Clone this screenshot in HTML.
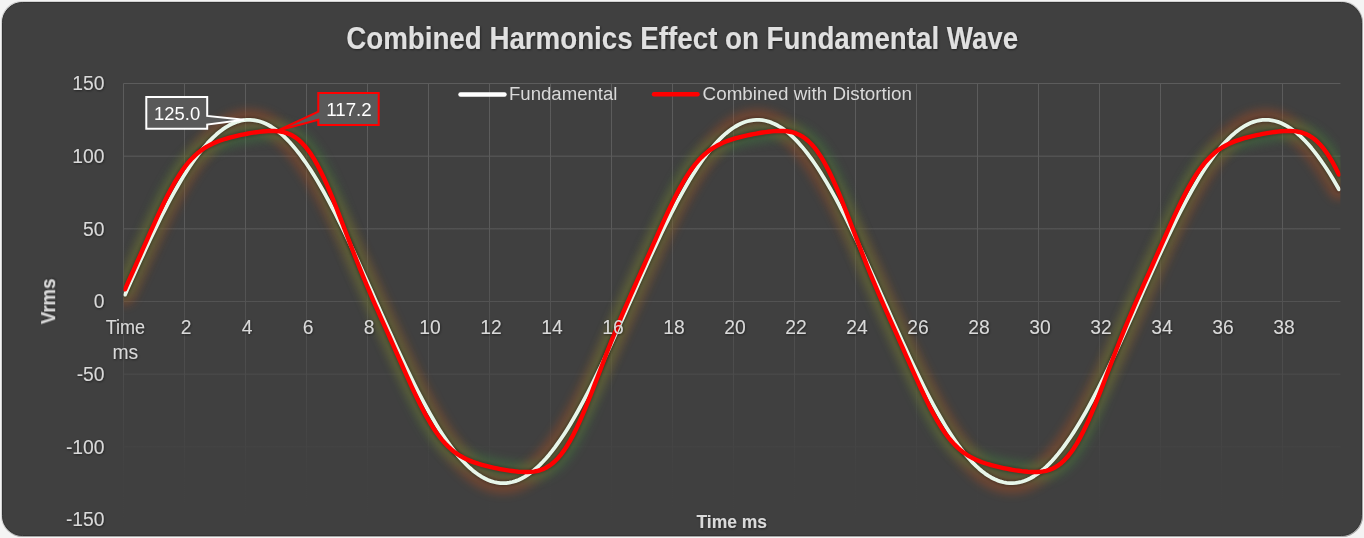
<!DOCTYPE html>
<html><head><meta charset="utf-8"><title>Combined Harmonics Effect on Fundamental Wave</title>
<style>
html,body{margin:0;padding:0;background:#f4f4f4;width:1364px;height:538px;overflow:hidden}
svg{display:block}
text{font-family:"Liberation Sans",Arial,sans-serif}
</style></head><body>
<svg width="1364" height="538" viewBox="0 0 1364 538">
<defs>
<filter id="sh" x="-5%" y="-5%" width="110%" height="110%"><feGaussianBlur stdDeviation="0.8"/></filter>
<filter id="ts" x="-10%" y="-20%" width="120%" height="150%"><feDropShadow dx="0.6" dy="0.8" stdDeviation="0.8" flood-color="#000" flood-opacity="0.55"/></filter>
<filter id="glowO" x="-10%" y="-30%" width="120%" height="160%"><feGaussianBlur stdDeviation="4.5"/></filter>
<filter id="glowG" x="-10%" y="-30%" width="120%" height="160%"><feGaussianBlur stdDeviation="4.5"/></filter>
<linearGradient id="gg" gradientUnits="userSpaceOnUse" x1="0" y1="83" x2="0" y2="520">
<stop offset="0" stop-color="#5c5c5c"/>
<stop offset="0.31" stop-color="#5b5b5b"/>
<stop offset="0.9" stop-color="#414141"/>
<stop offset="1" stop-color="#404040"/>
</linearGradient>
<clipPath id="pc"><rect x="123.5" y="63.5" width="1216.9" height="476.0"/></clipPath>
</defs>
<rect x="1" y="1" width="1362" height="536" rx="21" fill="#d2d2d2"/>
<rect x="2" y="2" width="1361" height="535" rx="21" fill="#a8a8a8"/>
<rect x="2.5" y="2.5" width="1359" height="533" rx="20" fill="#404040" stroke="#343434" stroke-width="1"/>
<g stroke="url(#gg)" stroke-width="1" fill="none">
<line x1="123.5" y1="83.5" x2="123.5" y2="519.5"/>
<line x1="184.5" y1="83.5" x2="184.5" y2="519.5"/>
<line x1="245.5" y1="83.5" x2="245.5" y2="519.5"/>
<line x1="306.5" y1="83.5" x2="306.5" y2="519.5"/>
<line x1="367.5" y1="83.5" x2="367.5" y2="519.5"/>
<line x1="428.5" y1="83.5" x2="428.5" y2="519.5"/>
<line x1="489.5" y1="83.5" x2="489.5" y2="519.5"/>
<line x1="550.5" y1="83.5" x2="550.5" y2="519.5"/>
<line x1="611.5" y1="83.5" x2="611.5" y2="519.5"/>
<line x1="672.5" y1="83.5" x2="672.5" y2="519.5"/>
<line x1="733.5" y1="83.5" x2="733.5" y2="519.5"/>
<line x1="794.5" y1="83.5" x2="794.5" y2="519.5"/>
<line x1="855.5" y1="83.5" x2="855.5" y2="519.5"/>
<line x1="916.5" y1="83.5" x2="916.5" y2="519.5"/>
<line x1="977.5" y1="83.5" x2="977.5" y2="519.5"/>
<line x1="1038.5" y1="83.5" x2="1038.5" y2="519.5"/>
<line x1="1099.5" y1="83.5" x2="1099.5" y2="519.5"/>
<line x1="1160.5" y1="83.5" x2="1160.5" y2="519.5"/>
<line x1="1221.5" y1="83.5" x2="1221.5" y2="519.5"/>
<line x1="1282.5" y1="83.5" x2="1282.5" y2="519.5"/>
<line x1="123.5" y1="83.5" x2="1340.4" y2="83.5"/>
<line x1="123.5" y1="156.17" x2="1340.4" y2="156.17"/>
<line x1="123.5" y1="228.83" x2="1340.4" y2="228.83"/>
<line x1="123.5" y1="301.5" x2="1340.4" y2="301.5"/>
<line x1="123.5" y1="374.17" x2="1340.4" y2="374.17"/>
<line x1="123.5" y1="446.83" x2="1340.4" y2="446.83"/>
<line x1="123.5" y1="519.5" x2="1340.4" y2="519.5"/>
</g>
<g clip-path="url(#pc)" fill="none" stroke-linejoin="round" stroke-linecap="round">
<path d="M125.03,294.65 L128.07,287.82 L131.12,281.00 L134.18,274.21 L137.22,267.46 L140.28,260.76 L143.32,254.11 L146.38,247.54 L149.43,241.04 L152.47,234.62 L155.53,228.30 L158.57,222.09 L161.62,215.99 L164.68,210.01 L167.72,204.16 L170.78,198.45 L173.82,192.88 L176.88,187.47 L179.93,182.22 L182.97,177.14 L186.03,172.24 L189.07,167.52 L192.12,162.99 L195.18,158.66 L198.22,154.53 L201.27,150.61 L204.32,146.90 L207.38,143.42 L210.43,140.15 L213.47,137.12 L216.52,134.32 L219.57,131.76 L222.62,129.44 L225.68,127.37 L228.72,125.54 L231.77,123.96 L234.82,122.64 L237.88,121.57 L240.93,120.75 L243.97,120.19 L247.02,119.89 L250.07,119.85 L253.12,120.06 L256.17,120.53 L259.23,121.27 L262.27,122.25 L265.32,123.49 L268.38,124.99 L271.42,126.73 L274.48,128.72 L277.52,130.96 L280.57,133.44 L283.62,136.16 L286.67,139.12 L289.73,142.30 L292.77,145.72 L295.82,149.35 L298.88,153.20 L301.92,157.26 L304.98,161.52 L308.02,165.99 L311.07,170.64 L314.12,175.49 L317.17,180.51 L320.23,185.70 L323.27,191.06 L326.32,196.57 L329.38,202.24 L332.42,208.04 L335.48,213.98 L338.52,220.04 L341.57,226.22 L344.62,232.51 L347.67,238.89 L350.73,245.36 L353.77,251.91 L356.82,258.54 L359.88,265.22 L362.92,271.95 L365.98,278.73 L369.02,285.54 L372.07,292.37 L375.12,299.22 L378.17,306.07 L381.22,312.91 L384.27,319.73 L387.32,326.53 L390.38,333.30 L393.43,340.01 L396.47,346.68 L399.52,353.28 L402.57,359.81 L405.62,366.25 L408.68,372.60 L411.72,378.85 L414.77,384.99 L417.82,391.01 L420.88,396.91 L423.92,402.67 L426.97,408.28 L430.02,413.75 L433.07,419.05 L436.12,424.19 L439.17,429.15 L442.22,433.93 L445.27,438.52 L448.32,442.92 L451.38,447.12 L454.42,451.11 L457.47,454.89 L460.52,458.45 L463.57,461.78 L466.62,464.89 L469.67,467.77 L472.72,470.41 L475.77,472.81 L478.82,474.97 L481.88,476.88 L484.92,478.54 L487.97,479.95 L491.02,481.11 L494.07,482.01 L497.12,482.65 L500.17,483.04 L503.22,483.17 L506.27,483.04 L509.32,482.65 L512.38,482.01 L515.42,481.11 L518.47,479.95 L521.52,478.54 L524.58,476.88 L527.62,474.97 L530.67,472.81 L533.72,470.41 L536.77,467.77 L539.83,464.89 L542.88,461.78 L545.92,458.45 L548.97,454.89 L552.02,451.11 L555.08,447.12 L558.12,442.92 L561.17,438.52 L564.22,433.93 L567.27,429.15 L570.33,424.19 L573.38,419.05 L576.42,413.75 L579.47,408.28 L582.52,402.67 L585.58,396.91 L588.62,391.01 L591.67,384.99 L594.72,378.85 L597.77,372.60 L600.83,366.25 L603.88,359.81 L606.92,353.28 L609.97,346.68 L613.02,340.01 L616.08,333.30 L619.12,326.53 L622.17,319.73 L625.22,312.91 L628.27,306.07 L631.33,299.22 L634.38,292.37 L637.42,285.54 L640.48,278.73 L643.52,271.95 L646.57,265.22 L649.62,258.54 L652.67,251.91 L655.73,245.36 L658.77,238.89 L661.82,232.51 L664.88,226.22 L667.92,220.04 L670.98,213.98 L674.02,208.04 L677.07,202.24 L680.12,196.57 L683.17,191.06 L686.23,185.70 L689.27,180.51 L692.32,175.49 L695.38,170.64 L698.42,165.99 L701.48,161.52 L704.52,157.26 L707.57,153.20 L710.62,149.35 L713.67,145.72 L716.72,142.30 L719.77,139.12 L722.82,136.16 L725.88,133.44 L728.92,130.96 L731.97,128.72 L735.02,126.73 L738.07,124.99 L741.12,123.49 L744.17,122.25 L747.22,121.27 L750.27,120.53 L753.32,120.06 L756.38,119.85 L759.42,119.89 L762.47,120.19 L765.52,120.75 L768.57,121.57 L771.62,122.64 L774.67,123.96 L777.72,125.54 L780.77,127.37 L783.82,129.44 L786.88,131.76 L789.92,134.32 L792.97,137.12 L796.02,140.15 L799.07,143.42 L802.12,146.90 L805.17,150.61 L808.22,154.53 L811.27,158.66 L814.32,162.99 L817.38,167.52 L820.42,172.24 L823.47,177.14 L826.52,182.22 L829.57,187.47 L832.62,192.88 L835.67,198.45 L838.72,204.16 L841.77,210.01 L844.82,215.99 L847.88,222.09 L850.92,228.30 L853.97,234.62 L857.02,241.04 L860.07,247.54 L863.12,254.11 L866.17,260.76 L869.22,267.46 L872.27,274.21 L875.32,281.00 L878.38,287.82 L881.42,294.65 L884.47,301.50 L887.52,308.35 L890.57,315.18 L893.62,322.00 L896.67,328.79 L899.72,335.54 L902.77,342.24 L905.82,348.89 L908.88,355.46 L911.92,361.96 L914.97,368.38 L918.02,374.70 L921.07,380.91 L924.12,387.01 L927.17,392.99 L930.22,398.84 L933.27,404.55 L936.32,410.12 L939.38,415.53 L942.42,420.78 L945.47,425.86 L948.52,430.76 L951.57,435.48 L954.62,440.01 L957.67,444.34 L960.72,448.47 L963.77,452.39 L966.82,456.10 L969.88,459.58 L972.92,462.85 L975.97,465.88 L979.02,468.68 L982.07,471.24 L985.12,473.56 L988.17,475.63 L991.22,477.46 L994.27,479.04 L997.32,480.36 L1000.38,481.43 L1003.42,482.25 L1006.47,482.81 L1009.52,483.11 L1012.57,483.15 L1015.62,482.94 L1018.67,482.47 L1021.72,481.73 L1024.78,480.75 L1027.82,479.51 L1030.88,478.01 L1033.92,476.27 L1036.97,474.28 L1040.03,472.04 L1043.07,469.56 L1046.12,466.84 L1049.17,463.88 L1052.22,460.70 L1055.28,457.28 L1058.32,453.65 L1061.38,449.80 L1064.42,445.74 L1067.47,441.48 L1070.53,437.01 L1073.57,432.36 L1076.62,427.51 L1079.67,422.49 L1082.72,417.30 L1085.78,411.94 L1088.82,406.43 L1091.88,400.76 L1094.92,394.96 L1097.97,389.02 L1101.03,382.96 L1104.07,376.78 L1107.12,370.49 L1110.17,364.11 L1113.22,357.64 L1116.28,351.09 L1119.32,344.46 L1122.38,337.78 L1125.42,331.05 L1128.47,324.27 L1131.53,317.46 L1134.57,310.63 L1137.62,303.78 L1140.67,296.93 L1143.72,290.09 L1146.78,283.27 L1149.83,276.47 L1152.88,269.70 L1155.92,262.99 L1158.97,256.32 L1162.02,249.72 L1165.08,243.19 L1168.12,236.75 L1171.17,230.40 L1174.22,224.15 L1177.27,218.01 L1180.33,211.99 L1183.38,206.09 L1186.42,200.33 L1189.47,194.72 L1192.52,189.25 L1195.58,183.95 L1198.62,178.81 L1201.67,173.85 L1204.72,169.07 L1207.77,164.48 L1210.83,160.08 L1213.88,155.88 L1216.92,151.89 L1219.97,148.11 L1223.02,144.55 L1226.08,141.22 L1229.12,138.11 L1232.17,135.23 L1235.22,132.59 L1238.27,130.19 L1241.33,128.03 L1244.38,126.12 L1247.42,124.46 L1250.47,123.05 L1253.52,121.89 L1256.58,120.99 L1259.62,120.35 L1262.67,119.96 L1265.72,119.83 L1268.77,119.96 L1271.83,120.35 L1274.88,120.99 L1277.92,121.89 L1280.97,123.05 L1284.02,124.46 L1287.08,126.12 L1290.12,128.03 L1293.17,130.19 L1296.22,132.59 L1299.27,135.23 L1302.32,138.11 L1305.38,141.22 L1308.42,144.55 L1311.47,148.11 L1314.52,151.89 L1317.57,155.88 L1320.62,160.08 L1323.67,164.48 L1326.72,169.07 L1329.77,173.85 L1332.82,178.81 L1335.88,183.95 L1338.92,189.25" stroke="#c0501a" stroke-width="22" opacity="0.34" filter="url(#glowO)"/>
<path d="M125.03,289.29 L128.07,282.44 L131.12,275.61 L134.18,268.79 L137.22,261.94 L140.28,255.09 L143.32,248.21 L146.38,241.33 L149.43,234.46 L152.47,227.63 L155.53,220.87 L158.57,214.21 L161.62,207.71 L164.68,201.39 L167.72,195.31 L170.78,189.50 L173.82,183.99 L176.88,178.81 L179.93,173.98 L182.97,169.52 L186.03,165.44 L189.07,161.73 L192.12,158.38 L195.18,155.37 L198.22,152.70 L201.27,150.32 L204.32,148.22 L207.38,146.36 L210.43,144.72 L213.47,143.26 L216.52,141.96 L219.57,140.79 L222.62,139.73 L225.68,138.77 L228.72,137.89 L231.77,137.07 L234.82,136.32 L237.88,135.61 L240.93,134.94 L243.97,134.32 L247.02,133.74 L250.07,133.20 L253.12,132.70 L256.17,132.25 L259.23,131.84 L262.27,131.50 L265.32,131.22 L268.38,131.03 L271.42,130.95 L274.48,130.99 L277.52,131.19 L280.57,131.58 L283.62,132.20 L286.67,133.08 L289.73,134.27 L292.77,135.80 L295.82,137.73 L298.88,140.08 L301.92,142.90 L304.98,146.21 L308.02,150.02 L311.07,154.35 L314.12,159.20 L317.17,164.57 L320.23,170.41 L323.27,176.71 L326.32,183.43 L329.38,190.51 L332.42,197.89 L335.48,205.52 L338.52,213.33 L341.57,221.26 L344.62,229.25 L347.67,237.25 L350.73,245.20 L353.77,253.06 L356.82,260.82 L359.88,268.44 L362.92,275.92 L365.98,283.25 L369.02,290.45 L372.07,297.53 L375.12,304.51 L378.17,311.42 L381.22,318.28 L384.27,325.11 L387.32,331.94 L390.38,338.77 L393.43,345.63 L396.47,352.50 L399.52,359.38 L402.57,366.26 L405.62,373.10 L408.68,379.89 L411.72,386.58 L414.77,393.14 L417.82,399.52 L420.88,405.69 L423.92,411.60 L426.97,417.21 L430.02,422.50 L433.07,427.45 L436.12,432.03 L439.17,436.24 L442.22,440.08 L445.27,443.55 L448.32,446.66 L451.38,449.45 L454.42,451.92 L457.47,454.11 L460.52,456.04 L463.57,457.76 L466.62,459.28 L469.67,460.63 L472.72,461.84 L475.77,462.93 L478.82,463.92 L481.88,464.82 L484.92,465.66 L487.97,466.44 L491.02,467.16 L494.07,467.84 L497.12,468.47 L500.17,469.07 L503.22,469.62 L506.27,470.14 L509.32,470.61 L512.38,471.03 L515.42,471.39 L518.47,471.69 L521.52,471.91 L524.58,472.04 L527.62,472.04 L530.67,471.89 L533.72,471.57 L536.77,471.04 L539.83,470.25 L542.88,469.17 L545.92,467.75 L548.97,465.96 L552.02,463.75 L555.08,461.09 L558.12,457.95 L561.17,454.31 L564.22,450.15 L567.27,445.47 L570.33,440.28 L573.38,434.59 L576.42,428.43 L579.47,421.85 L582.52,414.89 L585.58,407.60 L588.62,400.05 L591.67,392.29 L594.72,384.39 L597.77,376.42 L600.83,368.42 L603.88,360.45 L606.92,352.55 L609.97,344.75 L613.02,337.09 L616.08,329.56 L619.12,322.18 L622.17,314.94 L625.22,307.82 L628.27,300.81 L631.33,293.88 L634.38,287.00 L637.42,280.17 L640.48,273.34 L643.52,266.51 L646.57,259.66 L649.62,252.79 L652.67,245.92 L655.73,239.03 L658.77,232.17 L661.82,225.36 L664.88,218.63 L667.92,212.03 L670.98,205.58 L674.02,199.34 L677.07,193.34 L680.12,187.63 L683.17,182.22 L686.23,177.16 L689.27,172.46 L692.32,168.12 L695.38,164.16 L698.42,160.57 L701.48,157.34 L704.52,154.45 L707.57,151.87 L710.62,149.59 L713.67,147.57 L716.72,145.79 L719.77,144.21 L722.82,142.81 L725.88,141.55 L728.92,140.43 L731.97,139.40 L735.02,138.47 L738.07,137.61 L741.12,136.82 L744.17,136.07 L747.22,135.38 L750.27,134.73 L753.32,134.12 L756.38,133.56 L759.42,133.03 L762.47,132.54 L765.52,132.11 L768.57,131.72 L771.62,131.40 L774.67,131.15 L777.72,130.99 L780.77,130.95 L783.82,131.04 L786.88,131.30 L789.92,131.76 L792.97,132.46 L796.02,133.44 L799.07,134.74 L802.12,136.40 L805.17,138.47 L808.22,140.97 L811.27,143.95 L814.32,147.42 L817.38,151.41 L820.42,155.91 L823.47,160.94 L826.52,166.46 L829.57,172.46 L832.62,178.91 L835.67,185.75 L838.72,192.94 L841.77,200.41 L844.82,208.11 L847.88,215.96 L850.92,223.92 L853.97,231.92 L857.02,239.90 L860.07,247.83 L863.12,255.66 L866.17,263.37 L869.22,270.95 L872.27,278.38 L875.32,285.67 L878.38,292.82 L881.42,299.87 L884.47,306.82 L887.52,313.71 L890.57,320.56 L893.62,327.39 L896.67,334.21 L899.72,341.06 L902.77,347.91 L905.82,354.79 L908.88,361.67 L911.92,368.54 L914.97,375.37 L918.02,382.13 L921.07,388.79 L924.12,395.29 L927.17,401.61 L930.22,407.69 L933.27,413.50 L936.32,419.01 L939.38,424.19 L942.42,429.02 L945.47,433.48 L948.52,437.56 L951.57,441.27 L954.62,444.62 L957.67,447.63 L960.72,450.30 L963.77,452.68 L966.82,454.78 L969.88,456.64 L972.92,458.28 L975.97,459.74 L979.02,461.04 L982.07,462.21 L985.12,463.27 L988.17,464.23 L991.22,465.11 L994.27,465.93 L997.32,466.68 L1000.38,467.39 L1003.42,468.06 L1006.47,468.68 L1009.52,469.26 L1012.57,469.80 L1015.62,470.30 L1018.67,470.75 L1021.72,471.16 L1024.78,471.50 L1027.82,471.78 L1030.88,471.97 L1033.92,472.05 L1036.97,472.01 L1040.03,471.81 L1043.07,471.42 L1046.12,470.80 L1049.17,469.92 L1052.22,468.73 L1055.28,467.20 L1058.32,465.27 L1061.38,462.92 L1064.42,460.10 L1067.47,456.79 L1070.53,452.98 L1073.57,448.65 L1076.62,443.80 L1079.67,438.43 L1082.72,432.59 L1085.78,426.29 L1088.82,419.57 L1091.88,412.49 L1094.92,405.11 L1097.97,397.48 L1101.03,389.67 L1104.07,381.74 L1107.12,373.75 L1110.17,365.75 L1113.22,357.80 L1116.28,349.94 L1119.32,342.18 L1122.38,334.56 L1125.42,327.08 L1128.47,319.75 L1131.53,312.55 L1134.57,305.47 L1137.62,298.49 L1140.67,291.58 L1143.72,284.72 L1146.78,277.89 L1149.83,271.06 L1152.88,264.23 L1155.92,257.37 L1158.97,250.50 L1162.02,243.62 L1165.08,236.74 L1168.12,229.90 L1171.17,223.11 L1174.22,216.42 L1177.27,209.86 L1180.33,203.48 L1183.38,197.31 L1186.42,191.40 L1189.47,185.79 L1192.52,180.50 L1195.58,175.55 L1198.62,170.97 L1201.67,166.76 L1204.72,162.92 L1207.77,159.45 L1210.83,156.34 L1213.88,153.55 L1216.92,151.08 L1219.97,148.89 L1223.02,146.96 L1226.08,145.24 L1229.12,143.72 L1232.17,142.37 L1235.22,141.16 L1238.27,140.07 L1241.33,139.08 L1244.38,138.18 L1247.42,137.34 L1250.47,136.56 L1253.52,135.84 L1256.58,135.16 L1259.62,134.53 L1262.67,133.93 L1265.72,133.38 L1268.77,132.86 L1271.83,132.39 L1274.88,131.97 L1277.92,131.61 L1280.97,131.31 L1284.02,131.09 L1287.08,130.96 L1290.12,130.96 L1293.17,131.11 L1296.22,131.43 L1299.27,131.96 L1302.32,132.75 L1305.38,133.83 L1308.42,135.25 L1311.47,137.04 L1314.52,139.25 L1317.57,141.91 L1320.62,145.05 L1323.67,148.69 L1326.72,152.85 L1329.77,157.53 L1332.82,162.72 L1335.88,168.41 L1338.92,174.57" stroke="#3f8040" stroke-width="20" opacity="0.4" filter="url(#glowG)"/>
<path d="M125.03,294.65 L128.07,287.82 L131.12,281.00 L134.18,274.21 L137.22,267.46 L140.28,260.76 L143.32,254.11 L146.38,247.54 L149.43,241.04 L152.47,234.62 L155.53,228.30 L158.57,222.09 L161.62,215.99 L164.68,210.01 L167.72,204.16 L170.78,198.45 L173.82,192.88 L176.88,187.47 L179.93,182.22 L182.97,177.14 L186.03,172.24 L189.07,167.52 L192.12,162.99 L195.18,158.66 L198.22,154.53 L201.27,150.61 L204.32,146.90 L207.38,143.42 L210.43,140.15 L213.47,137.12 L216.52,134.32 L219.57,131.76 L222.62,129.44 L225.68,127.37 L228.72,125.54 L231.77,123.96 L234.82,122.64 L237.88,121.57 L240.93,120.75 L243.97,120.19 L247.02,119.89 L250.07,119.85 L253.12,120.06 L256.17,120.53 L259.23,121.27 L262.27,122.25 L265.32,123.49 L268.38,124.99 L271.42,126.73 L274.48,128.72 L277.52,130.96 L280.57,133.44 L283.62,136.16 L286.67,139.12 L289.73,142.30 L292.77,145.72 L295.82,149.35 L298.88,153.20 L301.92,157.26 L304.98,161.52 L308.02,165.99 L311.07,170.64 L314.12,175.49 L317.17,180.51 L320.23,185.70 L323.27,191.06 L326.32,196.57 L329.38,202.24 L332.42,208.04 L335.48,213.98 L338.52,220.04 L341.57,226.22 L344.62,232.51 L347.67,238.89 L350.73,245.36 L353.77,251.91 L356.82,258.54 L359.88,265.22 L362.92,271.95 L365.98,278.73 L369.02,285.54 L372.07,292.37 L375.12,299.22 L378.17,306.07 L381.22,312.91 L384.27,319.73 L387.32,326.53 L390.38,333.30 L393.43,340.01 L396.47,346.68 L399.52,353.28 L402.57,359.81 L405.62,366.25 L408.68,372.60 L411.72,378.85 L414.77,384.99 L417.82,391.01 L420.88,396.91 L423.92,402.67 L426.97,408.28 L430.02,413.75 L433.07,419.05 L436.12,424.19 L439.17,429.15 L442.22,433.93 L445.27,438.52 L448.32,442.92 L451.38,447.12 L454.42,451.11 L457.47,454.89 L460.52,458.45 L463.57,461.78 L466.62,464.89 L469.67,467.77 L472.72,470.41 L475.77,472.81 L478.82,474.97 L481.88,476.88 L484.92,478.54 L487.97,479.95 L491.02,481.11 L494.07,482.01 L497.12,482.65 L500.17,483.04 L503.22,483.17 L506.27,483.04 L509.32,482.65 L512.38,482.01 L515.42,481.11 L518.47,479.95 L521.52,478.54 L524.58,476.88 L527.62,474.97 L530.67,472.81 L533.72,470.41 L536.77,467.77 L539.83,464.89 L542.88,461.78 L545.92,458.45 L548.97,454.89 L552.02,451.11 L555.08,447.12 L558.12,442.92 L561.17,438.52 L564.22,433.93 L567.27,429.15 L570.33,424.19 L573.38,419.05 L576.42,413.75 L579.47,408.28 L582.52,402.67 L585.58,396.91 L588.62,391.01 L591.67,384.99 L594.72,378.85 L597.77,372.60 L600.83,366.25 L603.88,359.81 L606.92,353.28 L609.97,346.68 L613.02,340.01 L616.08,333.30 L619.12,326.53 L622.17,319.73 L625.22,312.91 L628.27,306.07 L631.33,299.22 L634.38,292.37 L637.42,285.54 L640.48,278.73 L643.52,271.95 L646.57,265.22 L649.62,258.54 L652.67,251.91 L655.73,245.36 L658.77,238.89 L661.82,232.51 L664.88,226.22 L667.92,220.04 L670.98,213.98 L674.02,208.04 L677.07,202.24 L680.12,196.57 L683.17,191.06 L686.23,185.70 L689.27,180.51 L692.32,175.49 L695.38,170.64 L698.42,165.99 L701.48,161.52 L704.52,157.26 L707.57,153.20 L710.62,149.35 L713.67,145.72 L716.72,142.30 L719.77,139.12 L722.82,136.16 L725.88,133.44 L728.92,130.96 L731.97,128.72 L735.02,126.73 L738.07,124.99 L741.12,123.49 L744.17,122.25 L747.22,121.27 L750.27,120.53 L753.32,120.06 L756.38,119.85 L759.42,119.89 L762.47,120.19 L765.52,120.75 L768.57,121.57 L771.62,122.64 L774.67,123.96 L777.72,125.54 L780.77,127.37 L783.82,129.44 L786.88,131.76 L789.92,134.32 L792.97,137.12 L796.02,140.15 L799.07,143.42 L802.12,146.90 L805.17,150.61 L808.22,154.53 L811.27,158.66 L814.32,162.99 L817.38,167.52 L820.42,172.24 L823.47,177.14 L826.52,182.22 L829.57,187.47 L832.62,192.88 L835.67,198.45 L838.72,204.16 L841.77,210.01 L844.82,215.99 L847.88,222.09 L850.92,228.30 L853.97,234.62 L857.02,241.04 L860.07,247.54 L863.12,254.11 L866.17,260.76 L869.22,267.46 L872.27,274.21 L875.32,281.00 L878.38,287.82 L881.42,294.65 L884.47,301.50 L887.52,308.35 L890.57,315.18 L893.62,322.00 L896.67,328.79 L899.72,335.54 L902.77,342.24 L905.82,348.89 L908.88,355.46 L911.92,361.96 L914.97,368.38 L918.02,374.70 L921.07,380.91 L924.12,387.01 L927.17,392.99 L930.22,398.84 L933.27,404.55 L936.32,410.12 L939.38,415.53 L942.42,420.78 L945.47,425.86 L948.52,430.76 L951.57,435.48 L954.62,440.01 L957.67,444.34 L960.72,448.47 L963.77,452.39 L966.82,456.10 L969.88,459.58 L972.92,462.85 L975.97,465.88 L979.02,468.68 L982.07,471.24 L985.12,473.56 L988.17,475.63 L991.22,477.46 L994.27,479.04 L997.32,480.36 L1000.38,481.43 L1003.42,482.25 L1006.47,482.81 L1009.52,483.11 L1012.57,483.15 L1015.62,482.94 L1018.67,482.47 L1021.72,481.73 L1024.78,480.75 L1027.82,479.51 L1030.88,478.01 L1033.92,476.27 L1036.97,474.28 L1040.03,472.04 L1043.07,469.56 L1046.12,466.84 L1049.17,463.88 L1052.22,460.70 L1055.28,457.28 L1058.32,453.65 L1061.38,449.80 L1064.42,445.74 L1067.47,441.48 L1070.53,437.01 L1073.57,432.36 L1076.62,427.51 L1079.67,422.49 L1082.72,417.30 L1085.78,411.94 L1088.82,406.43 L1091.88,400.76 L1094.92,394.96 L1097.97,389.02 L1101.03,382.96 L1104.07,376.78 L1107.12,370.49 L1110.17,364.11 L1113.22,357.64 L1116.28,351.09 L1119.32,344.46 L1122.38,337.78 L1125.42,331.05 L1128.47,324.27 L1131.53,317.46 L1134.57,310.63 L1137.62,303.78 L1140.67,296.93 L1143.72,290.09 L1146.78,283.27 L1149.83,276.47 L1152.88,269.70 L1155.92,262.99 L1158.97,256.32 L1162.02,249.72 L1165.08,243.19 L1168.12,236.75 L1171.17,230.40 L1174.22,224.15 L1177.27,218.01 L1180.33,211.99 L1183.38,206.09 L1186.42,200.33 L1189.47,194.72 L1192.52,189.25 L1195.58,183.95 L1198.62,178.81 L1201.67,173.85 L1204.72,169.07 L1207.77,164.48 L1210.83,160.08 L1213.88,155.88 L1216.92,151.89 L1219.97,148.11 L1223.02,144.55 L1226.08,141.22 L1229.12,138.11 L1232.17,135.23 L1235.22,132.59 L1238.27,130.19 L1241.33,128.03 L1244.38,126.12 L1247.42,124.46 L1250.47,123.05 L1253.52,121.89 L1256.58,120.99 L1259.62,120.35 L1262.67,119.96 L1265.72,119.83 L1268.77,119.96 L1271.83,120.35 L1274.88,120.99 L1277.92,121.89 L1280.97,123.05 L1284.02,124.46 L1287.08,126.12 L1290.12,128.03 L1293.17,130.19 L1296.22,132.59 L1299.27,135.23 L1302.32,138.11 L1305.38,141.22 L1308.42,144.55 L1311.47,148.11 L1314.52,151.89 L1317.57,155.88 L1320.62,160.08 L1323.67,164.48 L1326.72,169.07 L1329.77,173.85 L1332.82,178.81 L1335.88,183.95 L1338.92,189.25" stroke="#000" stroke-width="6" opacity="0.25" filter="url(#sh)"/>
<path d="M125.03,289.29 L128.07,282.44 L131.12,275.61 L134.18,268.79 L137.22,261.94 L140.28,255.09 L143.32,248.21 L146.38,241.33 L149.43,234.46 L152.47,227.63 L155.53,220.87 L158.57,214.21 L161.62,207.71 L164.68,201.39 L167.72,195.31 L170.78,189.50 L173.82,183.99 L176.88,178.81 L179.93,173.98 L182.97,169.52 L186.03,165.44 L189.07,161.73 L192.12,158.38 L195.18,155.37 L198.22,152.70 L201.27,150.32 L204.32,148.22 L207.38,146.36 L210.43,144.72 L213.47,143.26 L216.52,141.96 L219.57,140.79 L222.62,139.73 L225.68,138.77 L228.72,137.89 L231.77,137.07 L234.82,136.32 L237.88,135.61 L240.93,134.94 L243.97,134.32 L247.02,133.74 L250.07,133.20 L253.12,132.70 L256.17,132.25 L259.23,131.84 L262.27,131.50 L265.32,131.22 L268.38,131.03 L271.42,130.95 L274.48,130.99 L277.52,131.19 L280.57,131.58 L283.62,132.20 L286.67,133.08 L289.73,134.27 L292.77,135.80 L295.82,137.73 L298.88,140.08 L301.92,142.90 L304.98,146.21 L308.02,150.02 L311.07,154.35 L314.12,159.20 L317.17,164.57 L320.23,170.41 L323.27,176.71 L326.32,183.43 L329.38,190.51 L332.42,197.89 L335.48,205.52 L338.52,213.33 L341.57,221.26 L344.62,229.25 L347.67,237.25 L350.73,245.20 L353.77,253.06 L356.82,260.82 L359.88,268.44 L362.92,275.92 L365.98,283.25 L369.02,290.45 L372.07,297.53 L375.12,304.51 L378.17,311.42 L381.22,318.28 L384.27,325.11 L387.32,331.94 L390.38,338.77 L393.43,345.63 L396.47,352.50 L399.52,359.38 L402.57,366.26 L405.62,373.10 L408.68,379.89 L411.72,386.58 L414.77,393.14 L417.82,399.52 L420.88,405.69 L423.92,411.60 L426.97,417.21 L430.02,422.50 L433.07,427.45 L436.12,432.03 L439.17,436.24 L442.22,440.08 L445.27,443.55 L448.32,446.66 L451.38,449.45 L454.42,451.92 L457.47,454.11 L460.52,456.04 L463.57,457.76 L466.62,459.28 L469.67,460.63 L472.72,461.84 L475.77,462.93 L478.82,463.92 L481.88,464.82 L484.92,465.66 L487.97,466.44 L491.02,467.16 L494.07,467.84 L497.12,468.47 L500.17,469.07 L503.22,469.62 L506.27,470.14 L509.32,470.61 L512.38,471.03 L515.42,471.39 L518.47,471.69 L521.52,471.91 L524.58,472.04 L527.62,472.04 L530.67,471.89 L533.72,471.57 L536.77,471.04 L539.83,470.25 L542.88,469.17 L545.92,467.75 L548.97,465.96 L552.02,463.75 L555.08,461.09 L558.12,457.95 L561.17,454.31 L564.22,450.15 L567.27,445.47 L570.33,440.28 L573.38,434.59 L576.42,428.43 L579.47,421.85 L582.52,414.89 L585.58,407.60 L588.62,400.05 L591.67,392.29 L594.72,384.39 L597.77,376.42 L600.83,368.42 L603.88,360.45 L606.92,352.55 L609.97,344.75 L613.02,337.09 L616.08,329.56 L619.12,322.18 L622.17,314.94 L625.22,307.82 L628.27,300.81 L631.33,293.88 L634.38,287.00 L637.42,280.17 L640.48,273.34 L643.52,266.51 L646.57,259.66 L649.62,252.79 L652.67,245.92 L655.73,239.03 L658.77,232.17 L661.82,225.36 L664.88,218.63 L667.92,212.03 L670.98,205.58 L674.02,199.34 L677.07,193.34 L680.12,187.63 L683.17,182.22 L686.23,177.16 L689.27,172.46 L692.32,168.12 L695.38,164.16 L698.42,160.57 L701.48,157.34 L704.52,154.45 L707.57,151.87 L710.62,149.59 L713.67,147.57 L716.72,145.79 L719.77,144.21 L722.82,142.81 L725.88,141.55 L728.92,140.43 L731.97,139.40 L735.02,138.47 L738.07,137.61 L741.12,136.82 L744.17,136.07 L747.22,135.38 L750.27,134.73 L753.32,134.12 L756.38,133.56 L759.42,133.03 L762.47,132.54 L765.52,132.11 L768.57,131.72 L771.62,131.40 L774.67,131.15 L777.72,130.99 L780.77,130.95 L783.82,131.04 L786.88,131.30 L789.92,131.76 L792.97,132.46 L796.02,133.44 L799.07,134.74 L802.12,136.40 L805.17,138.47 L808.22,140.97 L811.27,143.95 L814.32,147.42 L817.38,151.41 L820.42,155.91 L823.47,160.94 L826.52,166.46 L829.57,172.46 L832.62,178.91 L835.67,185.75 L838.72,192.94 L841.77,200.41 L844.82,208.11 L847.88,215.96 L850.92,223.92 L853.97,231.92 L857.02,239.90 L860.07,247.83 L863.12,255.66 L866.17,263.37 L869.22,270.95 L872.27,278.38 L875.32,285.67 L878.38,292.82 L881.42,299.87 L884.47,306.82 L887.52,313.71 L890.57,320.56 L893.62,327.39 L896.67,334.21 L899.72,341.06 L902.77,347.91 L905.82,354.79 L908.88,361.67 L911.92,368.54 L914.97,375.37 L918.02,382.13 L921.07,388.79 L924.12,395.29 L927.17,401.61 L930.22,407.69 L933.27,413.50 L936.32,419.01 L939.38,424.19 L942.42,429.02 L945.47,433.48 L948.52,437.56 L951.57,441.27 L954.62,444.62 L957.67,447.63 L960.72,450.30 L963.77,452.68 L966.82,454.78 L969.88,456.64 L972.92,458.28 L975.97,459.74 L979.02,461.04 L982.07,462.21 L985.12,463.27 L988.17,464.23 L991.22,465.11 L994.27,465.93 L997.32,466.68 L1000.38,467.39 L1003.42,468.06 L1006.47,468.68 L1009.52,469.26 L1012.57,469.80 L1015.62,470.30 L1018.67,470.75 L1021.72,471.16 L1024.78,471.50 L1027.82,471.78 L1030.88,471.97 L1033.92,472.05 L1036.97,472.01 L1040.03,471.81 L1043.07,471.42 L1046.12,470.80 L1049.17,469.92 L1052.22,468.73 L1055.28,467.20 L1058.32,465.27 L1061.38,462.92 L1064.42,460.10 L1067.47,456.79 L1070.53,452.98 L1073.57,448.65 L1076.62,443.80 L1079.67,438.43 L1082.72,432.59 L1085.78,426.29 L1088.82,419.57 L1091.88,412.49 L1094.92,405.11 L1097.97,397.48 L1101.03,389.67 L1104.07,381.74 L1107.12,373.75 L1110.17,365.75 L1113.22,357.80 L1116.28,349.94 L1119.32,342.18 L1122.38,334.56 L1125.42,327.08 L1128.47,319.75 L1131.53,312.55 L1134.57,305.47 L1137.62,298.49 L1140.67,291.58 L1143.72,284.72 L1146.78,277.89 L1149.83,271.06 L1152.88,264.23 L1155.92,257.37 L1158.97,250.50 L1162.02,243.62 L1165.08,236.74 L1168.12,229.90 L1171.17,223.11 L1174.22,216.42 L1177.27,209.86 L1180.33,203.48 L1183.38,197.31 L1186.42,191.40 L1189.47,185.79 L1192.52,180.50 L1195.58,175.55 L1198.62,170.97 L1201.67,166.76 L1204.72,162.92 L1207.77,159.45 L1210.83,156.34 L1213.88,153.55 L1216.92,151.08 L1219.97,148.89 L1223.02,146.96 L1226.08,145.24 L1229.12,143.72 L1232.17,142.37 L1235.22,141.16 L1238.27,140.07 L1241.33,139.08 L1244.38,138.18 L1247.42,137.34 L1250.47,136.56 L1253.52,135.84 L1256.58,135.16 L1259.62,134.53 L1262.67,133.93 L1265.72,133.38 L1268.77,132.86 L1271.83,132.39 L1274.88,131.97 L1277.92,131.61 L1280.97,131.31 L1284.02,131.09 L1287.08,130.96 L1290.12,130.96 L1293.17,131.11 L1296.22,131.43 L1299.27,131.96 L1302.32,132.75 L1305.38,133.83 L1308.42,135.25 L1311.47,137.04 L1314.52,139.25 L1317.57,141.91 L1320.62,145.05 L1323.67,148.69 L1326.72,152.85 L1329.77,157.53 L1332.82,162.72 L1335.88,168.41 L1338.92,174.57" stroke="#000" stroke-width="7" opacity="0.2" filter="url(#sh)"/>
<path d="M125.03,294.65 L128.07,287.82 L131.12,281.00 L134.18,274.21 L137.22,267.46 L140.28,260.76 L143.32,254.11 L146.38,247.54 L149.43,241.04 L152.47,234.62 L155.53,228.30 L158.57,222.09 L161.62,215.99 L164.68,210.01 L167.72,204.16 L170.78,198.45 L173.82,192.88 L176.88,187.47 L179.93,182.22 L182.97,177.14 L186.03,172.24 L189.07,167.52 L192.12,162.99 L195.18,158.66 L198.22,154.53 L201.27,150.61 L204.32,146.90 L207.38,143.42 L210.43,140.15 L213.47,137.12 L216.52,134.32 L219.57,131.76 L222.62,129.44 L225.68,127.37 L228.72,125.54 L231.77,123.96 L234.82,122.64 L237.88,121.57 L240.93,120.75 L243.97,120.19 L247.02,119.89 L250.07,119.85 L253.12,120.06 L256.17,120.53 L259.23,121.27 L262.27,122.25 L265.32,123.49 L268.38,124.99 L271.42,126.73 L274.48,128.72 L277.52,130.96 L280.57,133.44 L283.62,136.16 L286.67,139.12 L289.73,142.30 L292.77,145.72 L295.82,149.35 L298.88,153.20 L301.92,157.26 L304.98,161.52 L308.02,165.99 L311.07,170.64 L314.12,175.49 L317.17,180.51 L320.23,185.70 L323.27,191.06 L326.32,196.57 L329.38,202.24 L332.42,208.04 L335.48,213.98 L338.52,220.04 L341.57,226.22 L344.62,232.51 L347.67,238.89 L350.73,245.36 L353.77,251.91 L356.82,258.54 L359.88,265.22 L362.92,271.95 L365.98,278.73 L369.02,285.54 L372.07,292.37 L375.12,299.22 L378.17,306.07 L381.22,312.91 L384.27,319.73 L387.32,326.53 L390.38,333.30 L393.43,340.01 L396.47,346.68 L399.52,353.28 L402.57,359.81 L405.62,366.25 L408.68,372.60 L411.72,378.85 L414.77,384.99 L417.82,391.01 L420.88,396.91 L423.92,402.67 L426.97,408.28 L430.02,413.75 L433.07,419.05 L436.12,424.19 L439.17,429.15 L442.22,433.93 L445.27,438.52 L448.32,442.92 L451.38,447.12 L454.42,451.11 L457.47,454.89 L460.52,458.45 L463.57,461.78 L466.62,464.89 L469.67,467.77 L472.72,470.41 L475.77,472.81 L478.82,474.97 L481.88,476.88 L484.92,478.54 L487.97,479.95 L491.02,481.11 L494.07,482.01 L497.12,482.65 L500.17,483.04 L503.22,483.17 L506.27,483.04 L509.32,482.65 L512.38,482.01 L515.42,481.11 L518.47,479.95 L521.52,478.54 L524.58,476.88 L527.62,474.97 L530.67,472.81 L533.72,470.41 L536.77,467.77 L539.83,464.89 L542.88,461.78 L545.92,458.45 L548.97,454.89 L552.02,451.11 L555.08,447.12 L558.12,442.92 L561.17,438.52 L564.22,433.93 L567.27,429.15 L570.33,424.19 L573.38,419.05 L576.42,413.75 L579.47,408.28 L582.52,402.67 L585.58,396.91 L588.62,391.01 L591.67,384.99 L594.72,378.85 L597.77,372.60 L600.83,366.25 L603.88,359.81 L606.92,353.28 L609.97,346.68 L613.02,340.01 L616.08,333.30 L619.12,326.53 L622.17,319.73 L625.22,312.91 L628.27,306.07 L631.33,299.22 L634.38,292.37 L637.42,285.54 L640.48,278.73 L643.52,271.95 L646.57,265.22 L649.62,258.54 L652.67,251.91 L655.73,245.36 L658.77,238.89 L661.82,232.51 L664.88,226.22 L667.92,220.04 L670.98,213.98 L674.02,208.04 L677.07,202.24 L680.12,196.57 L683.17,191.06 L686.23,185.70 L689.27,180.51 L692.32,175.49 L695.38,170.64 L698.42,165.99 L701.48,161.52 L704.52,157.26 L707.57,153.20 L710.62,149.35 L713.67,145.72 L716.72,142.30 L719.77,139.12 L722.82,136.16 L725.88,133.44 L728.92,130.96 L731.97,128.72 L735.02,126.73 L738.07,124.99 L741.12,123.49 L744.17,122.25 L747.22,121.27 L750.27,120.53 L753.32,120.06 L756.38,119.85 L759.42,119.89 L762.47,120.19 L765.52,120.75 L768.57,121.57 L771.62,122.64 L774.67,123.96 L777.72,125.54 L780.77,127.37 L783.82,129.44 L786.88,131.76 L789.92,134.32 L792.97,137.12 L796.02,140.15 L799.07,143.42 L802.12,146.90 L805.17,150.61 L808.22,154.53 L811.27,158.66 L814.32,162.99 L817.38,167.52 L820.42,172.24 L823.47,177.14 L826.52,182.22 L829.57,187.47 L832.62,192.88 L835.67,198.45 L838.72,204.16 L841.77,210.01 L844.82,215.99 L847.88,222.09 L850.92,228.30 L853.97,234.62 L857.02,241.04 L860.07,247.54 L863.12,254.11 L866.17,260.76 L869.22,267.46 L872.27,274.21 L875.32,281.00 L878.38,287.82 L881.42,294.65 L884.47,301.50 L887.52,308.35 L890.57,315.18 L893.62,322.00 L896.67,328.79 L899.72,335.54 L902.77,342.24 L905.82,348.89 L908.88,355.46 L911.92,361.96 L914.97,368.38 L918.02,374.70 L921.07,380.91 L924.12,387.01 L927.17,392.99 L930.22,398.84 L933.27,404.55 L936.32,410.12 L939.38,415.53 L942.42,420.78 L945.47,425.86 L948.52,430.76 L951.57,435.48 L954.62,440.01 L957.67,444.34 L960.72,448.47 L963.77,452.39 L966.82,456.10 L969.88,459.58 L972.92,462.85 L975.97,465.88 L979.02,468.68 L982.07,471.24 L985.12,473.56 L988.17,475.63 L991.22,477.46 L994.27,479.04 L997.32,480.36 L1000.38,481.43 L1003.42,482.25 L1006.47,482.81 L1009.52,483.11 L1012.57,483.15 L1015.62,482.94 L1018.67,482.47 L1021.72,481.73 L1024.78,480.75 L1027.82,479.51 L1030.88,478.01 L1033.92,476.27 L1036.97,474.28 L1040.03,472.04 L1043.07,469.56 L1046.12,466.84 L1049.17,463.88 L1052.22,460.70 L1055.28,457.28 L1058.32,453.65 L1061.38,449.80 L1064.42,445.74 L1067.47,441.48 L1070.53,437.01 L1073.57,432.36 L1076.62,427.51 L1079.67,422.49 L1082.72,417.30 L1085.78,411.94 L1088.82,406.43 L1091.88,400.76 L1094.92,394.96 L1097.97,389.02 L1101.03,382.96 L1104.07,376.78 L1107.12,370.49 L1110.17,364.11 L1113.22,357.64 L1116.28,351.09 L1119.32,344.46 L1122.38,337.78 L1125.42,331.05 L1128.47,324.27 L1131.53,317.46 L1134.57,310.63 L1137.62,303.78 L1140.67,296.93 L1143.72,290.09 L1146.78,283.27 L1149.83,276.47 L1152.88,269.70 L1155.92,262.99 L1158.97,256.32 L1162.02,249.72 L1165.08,243.19 L1168.12,236.75 L1171.17,230.40 L1174.22,224.15 L1177.27,218.01 L1180.33,211.99 L1183.38,206.09 L1186.42,200.33 L1189.47,194.72 L1192.52,189.25 L1195.58,183.95 L1198.62,178.81 L1201.67,173.85 L1204.72,169.07 L1207.77,164.48 L1210.83,160.08 L1213.88,155.88 L1216.92,151.89 L1219.97,148.11 L1223.02,144.55 L1226.08,141.22 L1229.12,138.11 L1232.17,135.23 L1235.22,132.59 L1238.27,130.19 L1241.33,128.03 L1244.38,126.12 L1247.42,124.46 L1250.47,123.05 L1253.52,121.89 L1256.58,120.99 L1259.62,120.35 L1262.67,119.96 L1265.72,119.83 L1268.77,119.96 L1271.83,120.35 L1274.88,120.99 L1277.92,121.89 L1280.97,123.05 L1284.02,124.46 L1287.08,126.12 L1290.12,128.03 L1293.17,130.19 L1296.22,132.59 L1299.27,135.23 L1302.32,138.11 L1305.38,141.22 L1308.42,144.55 L1311.47,148.11 L1314.52,151.89 L1317.57,155.88 L1320.62,160.08 L1323.67,164.48 L1326.72,169.07 L1329.77,173.85 L1332.82,178.81 L1335.88,183.95 L1338.92,189.25" stroke="#e8f6ea" stroke-width="3.8"/>
<path d="M125.03,289.29 L128.07,282.44 L131.12,275.61 L134.18,268.79 L137.22,261.94 L140.28,255.09 L143.32,248.21 L146.38,241.33 L149.43,234.46 L152.47,227.63 L155.53,220.87 L158.57,214.21 L161.62,207.71 L164.68,201.39 L167.72,195.31 L170.78,189.50 L173.82,183.99 L176.88,178.81 L179.93,173.98 L182.97,169.52 L186.03,165.44 L189.07,161.73 L192.12,158.38 L195.18,155.37 L198.22,152.70 L201.27,150.32 L204.32,148.22 L207.38,146.36 L210.43,144.72 L213.47,143.26 L216.52,141.96 L219.57,140.79 L222.62,139.73 L225.68,138.77 L228.72,137.89 L231.77,137.07 L234.82,136.32 L237.88,135.61 L240.93,134.94 L243.97,134.32 L247.02,133.74 L250.07,133.20 L253.12,132.70 L256.17,132.25 L259.23,131.84 L262.27,131.50 L265.32,131.22 L268.38,131.03 L271.42,130.95 L274.48,130.99 L277.52,131.19 L280.57,131.58 L283.62,132.20 L286.67,133.08 L289.73,134.27 L292.77,135.80 L295.82,137.73 L298.88,140.08 L301.92,142.90 L304.98,146.21 L308.02,150.02 L311.07,154.35 L314.12,159.20 L317.17,164.57 L320.23,170.41 L323.27,176.71 L326.32,183.43 L329.38,190.51 L332.42,197.89 L335.48,205.52 L338.52,213.33 L341.57,221.26 L344.62,229.25 L347.67,237.25 L350.73,245.20 L353.77,253.06 L356.82,260.82 L359.88,268.44 L362.92,275.92 L365.98,283.25 L369.02,290.45 L372.07,297.53 L375.12,304.51 L378.17,311.42 L381.22,318.28 L384.27,325.11 L387.32,331.94 L390.38,338.77 L393.43,345.63 L396.47,352.50 L399.52,359.38 L402.57,366.26 L405.62,373.10 L408.68,379.89 L411.72,386.58 L414.77,393.14 L417.82,399.52 L420.88,405.69 L423.92,411.60 L426.97,417.21 L430.02,422.50 L433.07,427.45 L436.12,432.03 L439.17,436.24 L442.22,440.08 L445.27,443.55 L448.32,446.66 L451.38,449.45 L454.42,451.92 L457.47,454.11 L460.52,456.04 L463.57,457.76 L466.62,459.28 L469.67,460.63 L472.72,461.84 L475.77,462.93 L478.82,463.92 L481.88,464.82 L484.92,465.66 L487.97,466.44 L491.02,467.16 L494.07,467.84 L497.12,468.47 L500.17,469.07 L503.22,469.62 L506.27,470.14 L509.32,470.61 L512.38,471.03 L515.42,471.39 L518.47,471.69 L521.52,471.91 L524.58,472.04 L527.62,472.04 L530.67,471.89 L533.72,471.57 L536.77,471.04 L539.83,470.25 L542.88,469.17 L545.92,467.75 L548.97,465.96 L552.02,463.75 L555.08,461.09 L558.12,457.95 L561.17,454.31 L564.22,450.15 L567.27,445.47 L570.33,440.28 L573.38,434.59 L576.42,428.43 L579.47,421.85 L582.52,414.89 L585.58,407.60 L588.62,400.05 L591.67,392.29 L594.72,384.39 L597.77,376.42 L600.83,368.42 L603.88,360.45 L606.92,352.55 L609.97,344.75 L613.02,337.09 L616.08,329.56 L619.12,322.18 L622.17,314.94 L625.22,307.82 L628.27,300.81 L631.33,293.88 L634.38,287.00 L637.42,280.17 L640.48,273.34 L643.52,266.51 L646.57,259.66 L649.62,252.79 L652.67,245.92 L655.73,239.03 L658.77,232.17 L661.82,225.36 L664.88,218.63 L667.92,212.03 L670.98,205.58 L674.02,199.34 L677.07,193.34 L680.12,187.63 L683.17,182.22 L686.23,177.16 L689.27,172.46 L692.32,168.12 L695.38,164.16 L698.42,160.57 L701.48,157.34 L704.52,154.45 L707.57,151.87 L710.62,149.59 L713.67,147.57 L716.72,145.79 L719.77,144.21 L722.82,142.81 L725.88,141.55 L728.92,140.43 L731.97,139.40 L735.02,138.47 L738.07,137.61 L741.12,136.82 L744.17,136.07 L747.22,135.38 L750.27,134.73 L753.32,134.12 L756.38,133.56 L759.42,133.03 L762.47,132.54 L765.52,132.11 L768.57,131.72 L771.62,131.40 L774.67,131.15 L777.72,130.99 L780.77,130.95 L783.82,131.04 L786.88,131.30 L789.92,131.76 L792.97,132.46 L796.02,133.44 L799.07,134.74 L802.12,136.40 L805.17,138.47 L808.22,140.97 L811.27,143.95 L814.32,147.42 L817.38,151.41 L820.42,155.91 L823.47,160.94 L826.52,166.46 L829.57,172.46 L832.62,178.91 L835.67,185.75 L838.72,192.94 L841.77,200.41 L844.82,208.11 L847.88,215.96 L850.92,223.92 L853.97,231.92 L857.02,239.90 L860.07,247.83 L863.12,255.66 L866.17,263.37 L869.22,270.95 L872.27,278.38 L875.32,285.67 L878.38,292.82 L881.42,299.87 L884.47,306.82 L887.52,313.71 L890.57,320.56 L893.62,327.39 L896.67,334.21 L899.72,341.06 L902.77,347.91 L905.82,354.79 L908.88,361.67 L911.92,368.54 L914.97,375.37 L918.02,382.13 L921.07,388.79 L924.12,395.29 L927.17,401.61 L930.22,407.69 L933.27,413.50 L936.32,419.01 L939.38,424.19 L942.42,429.02 L945.47,433.48 L948.52,437.56 L951.57,441.27 L954.62,444.62 L957.67,447.63 L960.72,450.30 L963.77,452.68 L966.82,454.78 L969.88,456.64 L972.92,458.28 L975.97,459.74 L979.02,461.04 L982.07,462.21 L985.12,463.27 L988.17,464.23 L991.22,465.11 L994.27,465.93 L997.32,466.68 L1000.38,467.39 L1003.42,468.06 L1006.47,468.68 L1009.52,469.26 L1012.57,469.80 L1015.62,470.30 L1018.67,470.75 L1021.72,471.16 L1024.78,471.50 L1027.82,471.78 L1030.88,471.97 L1033.92,472.05 L1036.97,472.01 L1040.03,471.81 L1043.07,471.42 L1046.12,470.80 L1049.17,469.92 L1052.22,468.73 L1055.28,467.20 L1058.32,465.27 L1061.38,462.92 L1064.42,460.10 L1067.47,456.79 L1070.53,452.98 L1073.57,448.65 L1076.62,443.80 L1079.67,438.43 L1082.72,432.59 L1085.78,426.29 L1088.82,419.57 L1091.88,412.49 L1094.92,405.11 L1097.97,397.48 L1101.03,389.67 L1104.07,381.74 L1107.12,373.75 L1110.17,365.75 L1113.22,357.80 L1116.28,349.94 L1119.32,342.18 L1122.38,334.56 L1125.42,327.08 L1128.47,319.75 L1131.53,312.55 L1134.57,305.47 L1137.62,298.49 L1140.67,291.58 L1143.72,284.72 L1146.78,277.89 L1149.83,271.06 L1152.88,264.23 L1155.92,257.37 L1158.97,250.50 L1162.02,243.62 L1165.08,236.74 L1168.12,229.90 L1171.17,223.11 L1174.22,216.42 L1177.27,209.86 L1180.33,203.48 L1183.38,197.31 L1186.42,191.40 L1189.47,185.79 L1192.52,180.50 L1195.58,175.55 L1198.62,170.97 L1201.67,166.76 L1204.72,162.92 L1207.77,159.45 L1210.83,156.34 L1213.88,153.55 L1216.92,151.08 L1219.97,148.89 L1223.02,146.96 L1226.08,145.24 L1229.12,143.72 L1232.17,142.37 L1235.22,141.16 L1238.27,140.07 L1241.33,139.08 L1244.38,138.18 L1247.42,137.34 L1250.47,136.56 L1253.52,135.84 L1256.58,135.16 L1259.62,134.53 L1262.67,133.93 L1265.72,133.38 L1268.77,132.86 L1271.83,132.39 L1274.88,131.97 L1277.92,131.61 L1280.97,131.31 L1284.02,131.09 L1287.08,130.96 L1290.12,130.96 L1293.17,131.11 L1296.22,131.43 L1299.27,131.96 L1302.32,132.75 L1305.38,133.83 L1308.42,135.25 L1311.47,137.04 L1314.52,139.25 L1317.57,141.91 L1320.62,145.05 L1323.67,148.69 L1326.72,152.85 L1329.77,157.53 L1332.82,162.72 L1335.88,168.41 L1338.92,174.57" stroke="#ff0000" stroke-width="4.4"/>
</g>
<g fill="#d9d9d9" font-size="19.3" filter="url(#ts)">
<text x="104.5" y="90.3" text-anchor="end">150</text>
<text x="104.5" y="163.0" text-anchor="end">100</text>
<text x="104.5" y="235.6" text-anchor="end">50</text>
<text x="104.5" y="308.3" text-anchor="end">0</text>
<text x="104.5" y="381.0" text-anchor="end">-50</text>
<text x="104.5" y="453.6" text-anchor="end">-100</text>
<text x="104.5" y="526.3" text-anchor="end">-150</text>
</g>
<g fill="#d9d9d9" font-size="19.3" text-anchor="middle" filter="url(#ts)">
<text x="125.4" y="334" textLength="39.4" lengthAdjust="spacingAndGlyphs">Time</text>
<text x="125.4" y="359" >ms</text>
<text x="186.0" y="334">2</text>
<text x="247.0" y="334">4</text>
<text x="308.0" y="334">6</text>
<text x="369.0" y="334">8</text>
<text x="430.0" y="334">10</text>
<text x="491.0" y="334">12</text>
<text x="552.0" y="334">14</text>
<text x="613.0" y="334">16</text>
<text x="674.0" y="334">18</text>
<text x="735.0" y="334">20</text>
<text x="796.0" y="334">22</text>
<text x="857.0" y="334">24</text>
<text x="918.0" y="334">26</text>
<text x="979.0" y="334">28</text>
<text x="1040.0" y="334">30</text>
<text x="1101.0" y="334">32</text>
<text x="1162.0" y="334">34</text>
<text x="1223.0" y="334">36</text>
<text x="1284.0" y="334">38</text>
</g>
<text x="682.2" y="48.5" text-anchor="middle" font-size="30.8" font-weight="bold" fill="#e0e0e0" filter="url(#ts)" textLength="672" lengthAdjust="spacingAndGlyphs">Combined Harmonics Effect on Fundamental Wave</text>
<text x="731.8" y="528.4" text-anchor="middle" font-size="19" font-weight="bold" fill="#d9d9d9" filter="url(#ts)" textLength="70.6" lengthAdjust="spacingAndGlyphs">Time ms</text>
<text transform="translate(55.1,301.4) rotate(-90)" text-anchor="middle" font-size="20.5" font-weight="bold" fill="#d9d9d9" filter="url(#ts)" textLength="45.5" lengthAdjust="spacingAndGlyphs">Vrms</text>
<!-- legend -->
<line x1="460.5" y1="94.5" x2="504.5" y2="94.5" stroke="#000" stroke-width="7" stroke-linecap="round" opacity="0.35" filter="url(#sh)"/>
<line x1="460.5" y1="94.5" x2="504.5" y2="94.5" stroke="#ffffff" stroke-width="4.4" stroke-linecap="round"/>
<text x="509" y="100.2" font-size="19.2" fill="#d9d9d9" textLength="108.4" lengthAdjust="spacingAndGlyphs">Fundamental</text>
<line x1="654" y1="94.2" x2="697.5" y2="94.2" stroke="#000" stroke-width="7" stroke-linecap="round" opacity="0.3" filter="url(#sh)"/>
<line x1="654" y1="94.2" x2="697.5" y2="94.2" stroke="#ff0000" stroke-width="4.4" stroke-linecap="round"/>
<text x="702.6" y="100.2" font-size="19.2" fill="#d9d9d9" textLength="209.4" lengthAdjust="spacingAndGlyphs">Combined with Distortion</text>
<!-- callouts -->
<path d="M146.3,97 H207.2 V115.9 L244,119.8 L207.2,124.6 V128.8 H146.3 Z" fill="#595959" stroke="#ffffff" stroke-width="2" stroke-linejoin="miter"/>
<text x="154.1" y="119.8" font-size="19" fill="#ffffff" textLength="46.1" lengthAdjust="spacingAndGlyphs">125.0</text>
<path d="M318.3,93 H378.7 V124.9 H318.3 V119.7 L278,130.5 L318.3,111.6 Z" fill="#595959" stroke="#ff0000" stroke-width="2" stroke-linejoin="miter"/>
<text x="326.2" y="116.4" font-size="19" fill="#ffffff" textLength="45.5" lengthAdjust="spacingAndGlyphs">117.2</text>
</svg>
</body></html>
